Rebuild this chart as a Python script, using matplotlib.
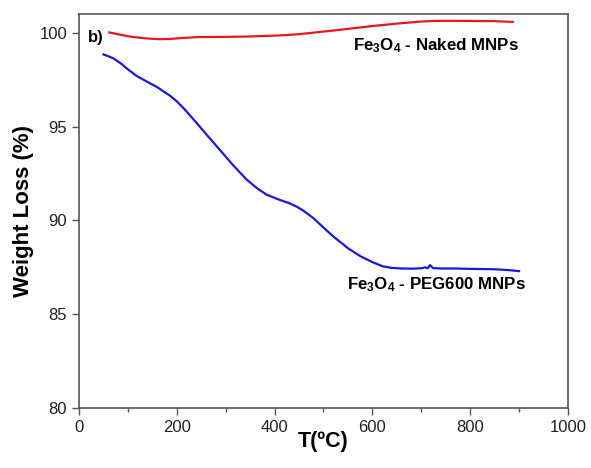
import matplotlib
matplotlib.use("Agg")
import matplotlib.pyplot as plt
from matplotlib.ticker import MultipleLocator

plt.rcParams['font.family'] = ['Liberation Sans', 'DejaVu Sans']
plt.rcParams['mathtext.fontset'] = 'custom'
plt.rcParams['mathtext.rm'] = 'Liberation Sans:bold'
plt.rcParams['mathtext.bf'] = 'Liberation Sans:bold'

# Fe3O4 naked MNPs
naked_T = [62, 80, 104, 130, 150, 166, 185, 210, 241, 290, 343, 400, 425, 450, 470, 490, 513, 540, 560, 600, 650, 700, 724, 760, 800, 850, 887]
naked_W = [100.02, 99.92, 99.80, 99.72, 99.68, 99.66, 99.67, 99.72, 99.77, 99.78, 99.80, 99.85, 99.88, 99.93, 99.98, 100.04, 100.10, 100.18, 100.24, 100.36, 100.49, 100.60, 100.63, 100.64, 100.63, 100.62, 100.58]

# Fe3O4 PEG600 MNPs
peg_T = [50, 60, 70, 85, 100, 118, 140, 160, 186, 200, 215, 241, 265, 288, 315, 343, 365, 384, 410, 430, 445, 460, 479, 500, 520, 550, 575, 600, 622, 640, 660, 680, 700, 708, 713, 718, 724, 740, 770, 800, 850, 880, 900]
peg_W = [98.85, 98.75, 98.64, 98.38, 98.05, 97.70, 97.38, 97.10, 96.65, 96.35, 95.95, 95.18, 94.45, 93.76, 92.95, 92.17, 91.70, 91.37, 91.10, 90.92, 90.74, 90.50, 90.13, 89.62, 89.15, 88.52, 88.10, 87.78, 87.55, 87.47, 87.44, 87.43, 87.45, 87.50, 87.45, 87.62, 87.46, 87.44, 87.44, 87.42, 87.40, 87.35, 87.30]

fig = plt.figure(figsize=(5.91, 4.68), dpi=100)
ax = fig.add_axes([0.1337, 0.128, 0.8273, 0.842])

ax.plot(naked_T, naked_W, color='#e8171f', lw=1.6)
ax.plot(peg_T, peg_W, color='#1a1ad6', lw=1.6)

ax.set_xlim(0, 1000)
ax.set_ylim(80, 101)
ax.xaxis.set_major_locator(MultipleLocator(200))
ax.xaxis.set_minor_locator(MultipleLocator(100))
ax.yaxis.set_major_locator(MultipleLocator(5))

for s in ax.spines.values():
    s.set_color('#555555')
    s.set_linewidth(1.2)
ax.tick_params(axis='both', which='major', direction='out', length=5, width=1, color='#555555',
               labelsize=12, labelcolor='#222222', top=False, right=False)
ax.tick_params(axis='x', which='minor', direction='out', length=3, width=1, color='#555555', top=False)

ax.set_xlabel('T(ºC)', fontsize=15.5, fontweight='bold', labelpad=-3)
ax.set_ylabel('Weight Loss (%)', fontsize=16, fontweight='bold', labelpad=4)

ax.text(0.018, 0.94, 'b)', transform=ax.transAxes, fontsize=12, fontweight='bold', va='center', ha='left')
ax.text(729, 99.3, r'$\mathbf{Fe_3O_4}$ - Naked MNPs', fontsize=12.2, fontweight='bold', ha='center', va='center')
ax.text(731, 86.6, r'$\mathbf{Fe_3O_4}$ - PEG600 MNPs', fontsize=12.2, fontweight='bold', ha='center', va='center')

fig.savefig('out.png', dpi=100)
